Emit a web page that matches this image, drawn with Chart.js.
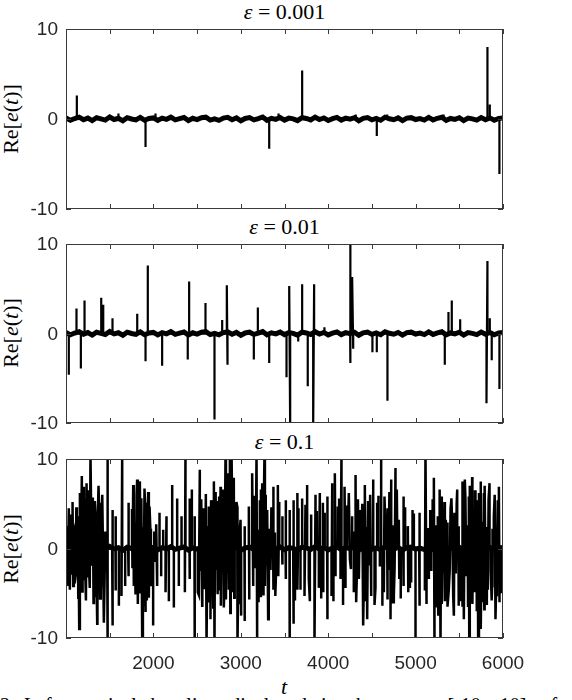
<!DOCTYPE html>
<html><head><meta charset="utf-8">
<script src="https://cdn.jsdelivr.net/npm/chart.js@4.4.0/dist/chart.umd.min.js"></script>
<style>
html,body{margin:0;padding:0;background:#fff;overflow:hidden;}
#wrap{position:relative;width:572px;height:700px;overflow:hidden;}
canvas{position:absolute;left:0;}
.title{position:absolute;left:66px;width:437px;height:22px;line-height:22px;text-align:center;font-family:'Liberation Serif',serif;font-size:22px;color:#000;white-space:nowrap;}
.ylab{position:absolute;left:-39px;width:100px;height:24px;line-height:24px;text-align:center;font-family:'Liberation Serif',serif;font-size:22px;color:#000;transform:rotate(-90deg);white-space:nowrap;}
.xlab{position:absolute;left:234px;top:675px;width:100px;height:24px;line-height:24px;text-align:center;font-family:'Liberation Serif',serif;font-style:italic;font-size:22px;}
.cap{position:absolute;left:0;top:694px;width:600px;font-family:'Liberation Serif',serif;font-size:20px;line-height:22px;white-space:nowrap;word-spacing:9px;}
i{font-style:italic;}
</style>
</head><body>
<div id="wrap">
  <div class="title" style="top:1px"><i>ε</i> = 0.001</div>
  <div class="title" style="top:216px"><i>ε</i> = 0.01</div>
  <div class="title" style="top:431px"><i>ε</i> = 0.1</div>
  <div class="ylab" style="top:107px">Re[<i>e</i>(<i>t</i>)]</div>
  <div class="ylab" style="top:321px">Re[<i>e</i>(<i>t</i>)]</div>
  <div class="ylab" style="top:537px">Re[<i>e</i>(<i>t</i>)]</div>
  <div class="xlab">t</div>
  <div class="cap">2 Left: vertical baseline displayed in the range [-10, 10] of</div>
  <canvas id="c1" width="572" height="204" style="top:17px"></canvas>
  <canvas id="c2" width="572" height="203" style="top:232px"></canvas>
  <canvas id="c3" width="572" height="233" style="top:447px"></canvas>
</div>
<script>
// ---- data ----
const xTicksLabelled = [2000, 3000, 4000, 5000, 6000];
const yTickValues = [-10, 0, 10];

// small baseline wobble, 101 values evenly spaced from t=1000 to t=6000
const baselineNoise = [0.12,-0.15,0.05,0.2,-0.08,0.1,-0.18,0.14,0.02,-0.12,
 0.22,-0.05,0.08,-0.2,0.15,0,-0.1,0.18,-0.14,0.06,
 0.12,-0.16,0.1,-0.04,0.2,-0.1,0.04,0.16,-0.18,0.08,
 -0.06,0.14,0.2,-0.12,0.02,-0.15,0.1,0.18,-0.08,0.12,
 -0.2,0.06,0.15,-0.1,0.04,0.22,-0.14,0.08,-0.04,0.16,
 -0.12,0.1,0.02,-0.18,0.14,0.06,-0.1,0.2,-0.06,0.12,
 -0.16,0.04,0.18,-0.12,0.1,-0.02,0.14,-0.2,0.08,0.16,
 -0.1,0.06,-0.14,0.2,0.02,-0.08,0.12,-0.18,0.1,0.15,
 -0.06,0.04,-0.12,0.18,-0.1,0.08,0.2,-0.15,0.06,-0.04,
 0.14,-0.18,0.1,0.02,-0.12,0.16,-0.08,0.12,-0.14,0.06,0.1];

// spikes [t, value]
const eps0001Spikes = [[1124,2.6],[1600,0.6],[1910,-3.1],[2024,0.6],[3325,-3.3],[3432,0.6],[3702,5.4],[4315,0.5],[4556,-1.9],[4675,0.5],[5320,0.5],[5822,8.0],[5849,1.6],[5959,-6.1]];

const eps001Spikes = [[1032,-4.6],[1120,2.8],[1170,-3.9],[1212,3.7],[1403,4.0],[1426,3.2],[1532,1.7],[1815,2.2],[1910,-3.1],[1936,7.6],[2100,-3.6],[2393,-2.9],[2409,5.8],[2596,3.4],[2699,-9.6],[2787,1.5],[2840,5.4],[2848,-3.5],[3149,-2.9],[3195,2.9],[3325,-3.3],[3523,-4.9],[3554,5.3],[3565,-10.8],[3657,-0.9],[3702,5.5],[3766,-5.9],[3828,-10.8],[3839,5.5],[3957,0.7],[4251,-3.3],[4255,10.8],[4274,6.3],[4286,-1.7],[4506,-2.1],[4556,-2.1],[4678,-7.5],[5334,-3.5],[5376,2.4],[5414,3.7],[5510,1.6],[5811,-7.8],[5822,8.1],[5849,1.7],[5871,-3.0],[5959,-6.2]];

const eps01Up = [[1032,4.5],[1097,2.1],[1135,3.6],[1181,8.1],[1204,6.9],[1235,7.3],[1250,5.8],[1280,10.8],[1307,5.7],[1338,3.6],[1372,7.0],[1395,5.1],[1479,10.8],[1536,4.3],[1566,3.6],[1643,10.8],[1719,5.1],[1769,7.1],[1814,7.7],[1845,7.5],[1898,6.7],[1956,4.7],[2032,2.7],[2070,4.0],[2112,2.1],[2150,3.6],[2215,7.1],[2272,5.6],[2322,3.6],[2367,10.8],[2413,5.6],[2440,6.6],[2470,3.6],[2531,8.8],[2577,4.5],[2634,4.7],[2692,7.5],[2730,5.3],[2768,6.9],[2795,4.9],[2825,10.8],[2852,8.4],[2875,10.8],[2894,10.8],[2920,7.9],[2959,4.7],[2997,3.2],[3046,2.5],[3092,4.7],[3130,8.4],[3180,10.8],[3218,5.4],[3245,7.3],[3271,10.8],[3302,4.3],[3370,6.9],[3424,7.1],[3473,3.6],[3512,5.4],[3557,4.3],[3607,5.4],[3645,6.2],[3702,5.6],[3759,7.1],[3805,3.8],[3855,6.0],[3904,6.2],[3939,5.1],[3988,5.8],[4046,7.3],[4076,8.4],[4110,4.7],[4152,10.8],[4187,6.9],[4236,6.2],[4274,3.6],[4313,8.2],[4362,4.3],[4419,7.1],[4457,5.3],[4515,7.7],[4560,5.1],[4606,9.9],[4644,5.8],[4683,4.5],[4721,7.7],[4770,9.0],[4808,3.2],[4858,5.8],[4911,2.5],[4965,4.3],[5041,4.0],[5113,10.8],[5167,4.3],[5209,7.9],[5254,3.6],[5293,5.8],[5346,3.2],[5400,4.5],[5445,4.0],[5476,6.6],[5533,7.5],[5563,7.7],[5609,5.8],[5647,8.0],[5697,5.4],[5743,7.5],[5781,6.2],[5846,7.3],[5895,3.6],[5953,6.9]];

const eps01Down = [[1006,-3.6],[1044,-4.6],[1082,-4.2],[1151,-9.0],[1210,-3.4],[1255,-3.1],[1326,-5.3],[1357,-8.4],[1400,-4.9],[1433,-8.3],[1471,-10.8],[1528,-8.6],[1570,-4.7],[1605,-6.4],[1635,-5.3],[1677,-4.2],[1711,-3.1],[1776,-4.2],[1822,-6.2],[1872,-10.8],[1906,-7.1],[1948,-5.5],[1997,-8.6],[2043,-4.2],[2089,-3.1],[2139,-4.9],[2177,-5.9],[2234,-6.6],[2291,-4.2],[2360,-4.9],[2417,-3.4],[2474,-10.8],[2508,-4.9],[2558,-6.4],[2608,-10.8],[2653,-7.9],[2699,-10.8],[2749,-4.7],[2806,-6.6],[2863,-4.6],[2901,-4.9],[2962,-10.8],[3004,-7.5],[3042,-8.1],[3097,-5.7],[3142,-4.2],[3187,-10.8],[3225,-5.3],[3276,-4.2],[3313,-7.9],[3375,-4.6],[3429,-3.1],[3478,-1.8],[3517,-3.4],[3561,-10.8],[3599,-8.4],[3650,-4.6],[3683,-4.6],[3729,-5.3],[3778,-3.4],[3843,-10.8],[3893,-4.4],[3944,-4.9],[3993,-7.9],[4038,-5.3],[4084,-3.1],[4141,-3.4],[4198,-4.4],[4248,-1.2],[4293,-4.9],[4351,-3.4],[4400,-8.6],[4446,-7.9],[4492,-5.3],[4541,-4.4],[4591,-2.0],[4637,-4.9],[4675,-5.7],[4713,-7.9],[4751,-5.3],[4813,-3.4],[4865,-4.2],[4916,-4.9],[4949,-3.8],[4999,-10.8],[5048,-6.4],[5106,-4.7],[5152,-3.4],[5216,-10.8],[5259,-7.5],[5285,-10.8],[5335,-5.9],[5380,-4.6],[5438,-7.5],[5495,-6.4],[5552,-7.9],[5614,-10.8],[5636,-6.0],[5674,-4.9],[5716,-10.8],[5748,-9.0],[5786,-6.8],[5827,-4.6],[5876,-4.2],[5914,-7.9],[5960,-6.0]];

// medium-height spikes filling the dense stretches of the eps = 0.1 panel
const eps01Mid = [[1020,-4.2],[1050,3.8],[1075,5.2],[1100,-3.9],[1118,4.6],[1140,-5.5],[1158,6.2],[1188,-4.8],[1215,5.5],[1228,-5.8],[1262,6.5],[1272,-4.4],[1295,4.9],[1315,-6.1],[1330,5.3],[1350,-3.8],[1380,4.4],[1390,-5.6],[1415,6.0],[1440,-4.4],
 [1755,4.4],[1795,-5.0],[1808,6.0],[1838,-4.9],[1862,5.6],[1885,-6.3],[1905,5.1],[1925,-5.8],[1940,6.3],[1972,-4.2],
 [2520,-5.2],[2550,5.5],[2570,-4.4],[2600,6.1],[2627,-5.9],[2660,5.4],[2685,-6.6],[2712,6.3],[2735,-5.1],[2752,5.8],[2772,-6.4],[2800,6.6],[2830,-5.7],[2868,6.2],[2880,-7.2],[2900,5.9],[2925,-5.5],[2950,5.2],[2968,-6.1],
 [3160,5.9],[3200,-6.0],[3230,6.6],[3255,-5.1],[3285,6.0],[3320,-5.5],[3350,4.6],[3395,-5.3],[3440,5.2],
 [3620,-5.8],[3660,4.5],[3740,4.9],[3790,-5.9],[3870,4.2],[3920,-5.6],[3960,4.0],
 [4060,-5.9],[4125,5.6],[4170,-6.3],[4215,4.8],[4320,-6.0],[4340,5.5],[4390,5.0],[4430,-5.9],[4480,6.0],
 [4530,-6.3],[4575,5.9],[4620,-6.4],[4700,6.3],[4742,-6.0],[4785,6.6],[4830,-5.6],[4880,4.6],[4935,-4.4],[4980,3.9],
 [5125,-6.2],[5195,5.5],[5240,-6.6],[5275,6.6],[5300,-6.2],[5330,5.2],[5370,-6.5],[5410,5.6],[5430,-5.3],[5470,5.0],[5510,-5.9],[5540,-6.5],[5570,5.6],[5600,-6.4],[5620,7.0],[5650,-6.2],[5680,6.5],[5700,-7.0],[5725,6.2],[5770,-6.0],[5790,7.0],[5815,-6.3],[5835,5.5],[5870,-5.8],[5905,6.0],[5920,-5.2],[5940,5.4],[5975,-5.0]];

// smaller oscillations inside the dense clusters of the eps = 0.1 panel
const eps01Small = [[1015,2.5],[1060,3.0],[1070,-2.8],[1090,1.8],[1110,-3.0],[1125,2.4],[1145,-2.0],[1160,3.2],[1170,-1.5],[1190,2.6],[1220,-2.4],[1242,3.0],[1265,-2.7],[1290,2.2],[1300,-1.8],[1320,3.4],[1345,-2.5],[1360,2.0],[1385,-3.0],[1410,2.1],[1425,-1.6],[1450,1.9],
 [1760,-2.2],[1785,2.8],[1800,-3.0],[1830,3.1],[1855,-2.6],[1880,2.4],[1890,-3.5],[1915,2.9],[1930,-2.1],[1965,2.2],[1980,-2.8],[2010,1.9],[2025,-1.5],
 [2545,-2.5],[2560,3.0],[2590,-3.2],[2620,2.5],[2640,-2.7],[2670,3.6],[2680,-3.3],[2705,2.8],[2720,-2.4],[2740,3.3],[2760,-3.0],[2780,2.7],[2815,-3.4],[2840,3.9],[2845,-2.6],[2860,2.9],[2885,-3.1],[2910,3.4],[2930,-2.8],[2945,2.2],[2975,-2.5],[2985,1.8],
 [3155,2.4],[3170,-2.2],[3205,2.1],[3235,-2.6],[3260,2.5],[3290,-1.9],[3325,2.2],[3340,-2.4],[3390,1.8],[3405,-2.1],
 [4225,2.0],[4260,-2.3],[4300,1.9],[4330,-2.1],[4380,2.2],[4410,-2.6],[4440,2.4],[4470,-1.9],
 [4655,2.2],[4690,-2.4],[4735,2.6],[4760,-2.2],[4790,2.1],
 [5140,2.3],[5180,-2.5],[5230,2.6],[5270,-2.2],[5310,2.4],[5320,-2.8],[5360,2.9],[5390,-2.5],[5420,2.2],[5460,-2.8],[5490,2.5],[5520,-2.4],[5545,3.0],[5580,-3.1],[5595,2.6],[5625,-2.3],[5660,2.8],[5685,-2.6],[5710,2.3],[5730,-2.9],[5760,3.0],[5800,-2.7],[5820,2.4],[5860,-2.5],[5880,2.2],[5930,-2.6],[5945,2.3]];

// ---- build chart data from the arrays ----
const T_MIN = 1000, T_MAX = 6000;
function spikeSeries(spikes){
  const s = spikes.slice().sort((a,b)=>a[0]-b[0]);
  const pts = [{x:T_MIN,y:0}];
  s.forEach(([t,v],i)=>{
    const prev = s[i-1], next = s[i+1];
    if(!prev || t - prev[0] > 12) pts.push({x:t,y:0});
    pts.push({x:t,y:v});
    if(!next || next[0] - t > 12) pts.push({x:t,y:0});
  });
  pts.push({x:T_MAX,y:0});
  return pts;
}
function baselineSeries(){
  const step = (T_MAX - T_MIN) / (baselineNoise.length - 1);
  return baselineNoise.map((v,i)=>({x:T_MIN + i*step, y:v}));
}

const AX = '#262626';
const frameTicks = {
  id:'frameTicks',
  afterDatasetsDraw(chart){
    const {ctx, chartArea:a, scales:{x,y}} = chart;
    ctx.save();
    ctx.strokeStyle = '#3a3a3a'; ctx.lineWidth = 1;
    ctx.beginPath();
    x.ticks.forEach(t=>{
      const px = Math.round(x.getPixelForValue(t.value)) + 0.5;
      ctx.moveTo(px, a.bottom); ctx.lineTo(px, a.bottom-5);
      ctx.moveTo(px, a.top); ctx.lineTo(px, a.top+5);
    });
    yTickValues.forEach(v=>{
      const py = Math.round(y.getPixelForValue(v)) + 0.5;
      ctx.moveTo(a.left, py); ctx.lineTo(a.left+5, py);
      ctx.moveTo(a.right, py); ctx.lineTo(a.right-5, py);
    });
    ctx.stroke();
    ctx.strokeRect(Math.round(a.left)+0.5, Math.round(a.top)+0.5, Math.round(a.right)-Math.round(a.left)-1, Math.round(a.bottom)-Math.round(a.top)-1);
    // y tick labels
    ctx.fillStyle = AX; ctx.font = '19px "Liberation Sans", Arial, sans-serif';
    ctx.textAlign = 'right'; ctx.textBaseline = 'middle';
    yTickValues.forEach(v=>{ ctx.fillText(String(v), a.left - 8, y.getPixelForValue(v) + 1); });
    ctx.restore();
  }
};

function makeChart(id, spikes, showX, lw){
  const ctx = document.getElementById(id);
  return new Chart(ctx, {
    type:'line',
    data:{datasets:[
      {data: baselineSeries(), borderColor:'#000', borderWidth:5, pointRadius:0, tension:0},
      {data: spikeSeries(spikes), borderColor:'#000', borderWidth:lw, pointRadius:0, tension:0}
    ]},
    plugins:[frameTicks],
    options:{
      responsive:false, animation:false, devicePixelRatio:1,
      layout:{padding:{top:12, bottom: showX ? 0 : 12, left:0, right:69}},
      plugins:{legend:{display:false}, tooltip:{enabled:false}},
      scales:{
        x:{type:'linear', min:T_MIN, max:T_MAX,
           grid:{display:false, drawTicks:false}, border:{display:false},
           ticks:{display:showX, stepSize:500, autoSkip:false, maxRotation:0, padding:14,
                  color:AX, font:{family:'Liberation Sans', size:19},
                  callback:v=> xTicksLabelled.includes(v) ? String(v) : ''},
           afterFit:s=>{ s.height = showX ? 42 : 0; }},
        y:{min:-10, max:10,
           grid:{display:false, drawTicks:false}, border:{display:false},
           ticks:{display:false},
           afterFit:s=>{ s.width = 66; }}
      }
    }
  });
}
makeChart('c1', eps0001Spikes, false, 2.2);
makeChart('c2', eps001Spikes, false, 2.2);
makeChart('c3', eps01Up.concat(eps01Down, eps01Mid, eps01Small), true, 2.5);
</script>
</body></html>
